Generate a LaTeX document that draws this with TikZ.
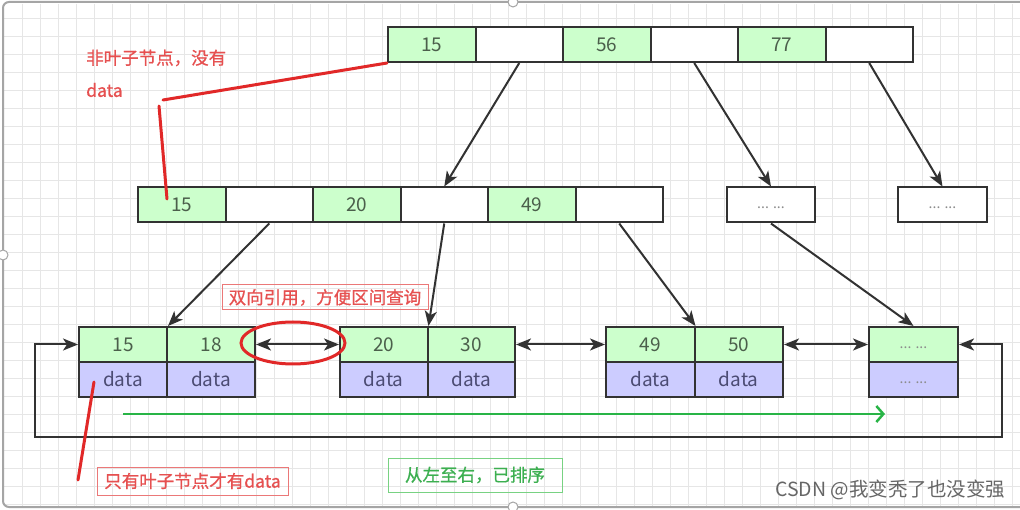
\documentclass[tikz,border=0pt]{standalone}
\usepackage{fontspec}
\newfontfamily\cjk{Noto Sans CJK SC}
\newfontfamily\cjkb[FakeBold=0.8]{Noto Sans CJK SC}
\usetikzlibrary{arrows.meta,shapes.geometric}
\definecolor{keyg}{RGB}{204,255,204}
\definecolor{datp}{RGB}{204,204,255}
\definecolor{linec}{RGB}{50,50,50}
\definecolor{numc}{RGB}{75,95,75}
\definecolor{datc}{RGB}{75,75,115}
\definecolor{dotc}{RGB}{140,140,140}
\definecolor{redc}{RGB}{225,40,40}
\definecolor{redt}{RGB}{230,80,80}
\definecolor{redb}{RGB}{235,120,120}
\definecolor{greent}{RGB}{60,175,80}
\definecolor{greenb}{RGB}{120,210,130}
\definecolor{greenl}{RGB}{40,180,70}
\definecolor{gridc}{RGB}{230,230,230}
\definecolor{framec}{RGB}{165,165,165}
\begin{document}
\begin{tikzpicture}[x=1pt,y=-1pt,
  every node/.style={font=\cjk\fontsize{19}{22}\selectfont, inner sep=0pt},
  cell/.style={draw=linec, line width=2pt, minimum width=87.5pt, minimum height=35pt, text=numc},
  key/.style={cell, fill=keyg},
  emp/.style={cell, fill=white},
  dat/.style={cell, fill=datp, text=datc},
  dots/.style={text=dotc, font=\cjk\fontsize{14}{16}\selectfont, yshift=-3pt},
  tip/.tip={Stealth[length=15pt,width=12pt,inset=4pt]},
  arr/.style={draw=linec, line width=2pt, -tip},
  darr/.style={draw=linec, line width=2pt, tip-tip},
  redline/.style={draw=redc, line width=3pt, line cap=round},
  note/.style={font=\cjkb\fontsize{17.5}{20}\selectfont},
  redbox/.style={note, draw=redb, line width=1pt, text=redt},
]
\useasboundingbox (0,0) rectangle (1020,510);
\fill[white] (0,0) rectangle (1020,510);
% grid
\foreach \x in {22,40,...,1020} \draw[gridc, line width=0.8pt] (\x,4) -- (\x,506);
\foreach \y in {18,36,...,506} \draw[gridc, line width=0.8pt] (4,\y) -- (1020,\y);
% frame
\draw[framec, line width=2pt, rounded corners=6pt] (3,2) rectangle (1030,507);
\foreach \p in {(513,2),(3,255),(513,507)} \draw[framec, fill=white, line width=1pt] \p circle (5);

% top node
\node[key] (t1) at (431.75,44.5) {15};
\node[emp] (t2) at (519.25,44.5) {};
\node[key] (t3) at (606.75,44.5) {56};
\node[emp] (t4) at (694.25,44.5) {};
\node[key] (t5) at (781.75,44.5) {77};
\node[emp] (t6) at (869.25,44.5) {};

% middle node
\node[key] (m1) at (181.75,205) {15};
\node[emp] (m2) at (269.25,205) {};
\node[key] (m3) at (356.75,205) {20};
\node[emp] (m4) at (444.25,205) {};
\node[key] (m5) at (531.75,205) {49};
\node[emp] (m6) at (619.25,205) {};
\node[emp, minimum width=88pt] (d1) at (771,205) {};
\node[dots] at (d1) {... ...};
\node[emp, minimum width=89pt] (d2) at (942.5,205) {};
\node[dots] at (d2) {... ...};

% leaves
\node[key, minimum width=88pt] (l1a) at (123,344.5) {15};
\node[key, minimum width=88pt] (l1b) at (211,344.5) {18};
\node[dat, minimum width=88pt] (l1c) at (123,379.5) {data};
\node[dat, minimum width=88pt] (l1d) at (211,379.5) {data};
\node[key] (l2a) at (383.75,344.5) {20};
\node[key] (l2b) at (471.25,344.5) {30};
\node[dat] (l2c) at (383.75,379.5) {data};
\node[dat] (l2d) at (471.25,379.5) {data};
\node[key, minimum width=88.5pt] (l3a) at (650.25,344.5) {49};
\node[key, minimum width=88.5pt] (l3b) at (738.75,344.5) {50};
\node[dat, minimum width=88.5pt] (l3c) at (650.25,379.5) {data};
\node[dat, minimum width=88.5pt] (l3d) at (738.75,379.5) {data};
\node[key, minimum width=89pt] (l4a) at (913.5,344.5) {};
\node[dots] at (l4a) {... ...};
\node[dat, minimum width=89pt] (l4b) at (913.5,379.5) {};
\node[dots] at (l4b) {... ...};

% tree arrows
\draw[arr] (t2.south) -- (m4.north);
\draw[arr] (t4.south) -- (d1.north);
\draw[arr] (t6.south) -- (d2.north);
\draw[arr] (m2.south) -- (l1a.north east);
\draw[arr] (m4.south) -- (l2a.north east);
\draw[arr] (m6.south) -- (l3a.north east);
\draw[arr] (d1.south) -- (l4a.north);

% leaf links
\draw[darr] (l1b.east) -- (l2a.west);
\draw[darr] (l2b.east) -- (l3a.west);
\draw[darr] (l3b.east) -- (l4a.west);
\coordinate (lr) at (1002,437);
\coordinate (ll) at (35,437);
\draw[darr] (l4a.east) -| (lr) -- (ll) |- (l1a.west);

% green order arrow
\coordinate (g1) at (123,414);
\coordinate (g2) at (885,414);
\draw[greenl, line width=2.5pt, -{Straight Barb[length=7pt,width=16pt]}] (g1) -- (g2);

% red ellipse
\node[ellipse, draw=redc, line width=3pt, minimum width=104pt, minimum height=42pt] (ell) at (293,343) {};

% annotations
\node[note, anchor=west, text=redt] (lab1) at (86,58) {非叶子节点，没有};
\node[note, anchor=west, text=redt] (lab2) at (86,90) {data};
\coordinate (r1) at (163,100);
\coordinate (r2) at (159,106);
\coordinate (r3) at (167,199);
\draw[redline] (t1.south west) -- (r1);
\draw[redline] (r2) -- (r3);

\node[redbox, minimum width=206pt, minimum height=25pt] (lab3) at (325,297.5) {双向引用，方便区间查询};

\node[redbox, minimum width=191pt, minimum height=28pt] (lab4) at (192.5,481) {只有叶子节点才有data};
\coordinate (r4) at (94,382);
\coordinate (r5) at (78,480);
\draw[redline] (r4) -- (r5);

\node[note, draw=greenb, line width=1pt, text=greent, minimum width=174pt, minimum height=34pt] (lab5) at (475,475) {从左至右，已排序};

\node[anchor=west, text=black!60, font=\cjk\fontsize{19.5}{22}\selectfont] (wm) at (775,490) {CSDN @我变秃了也没变强};
\end{tikzpicture}
\end{document}
